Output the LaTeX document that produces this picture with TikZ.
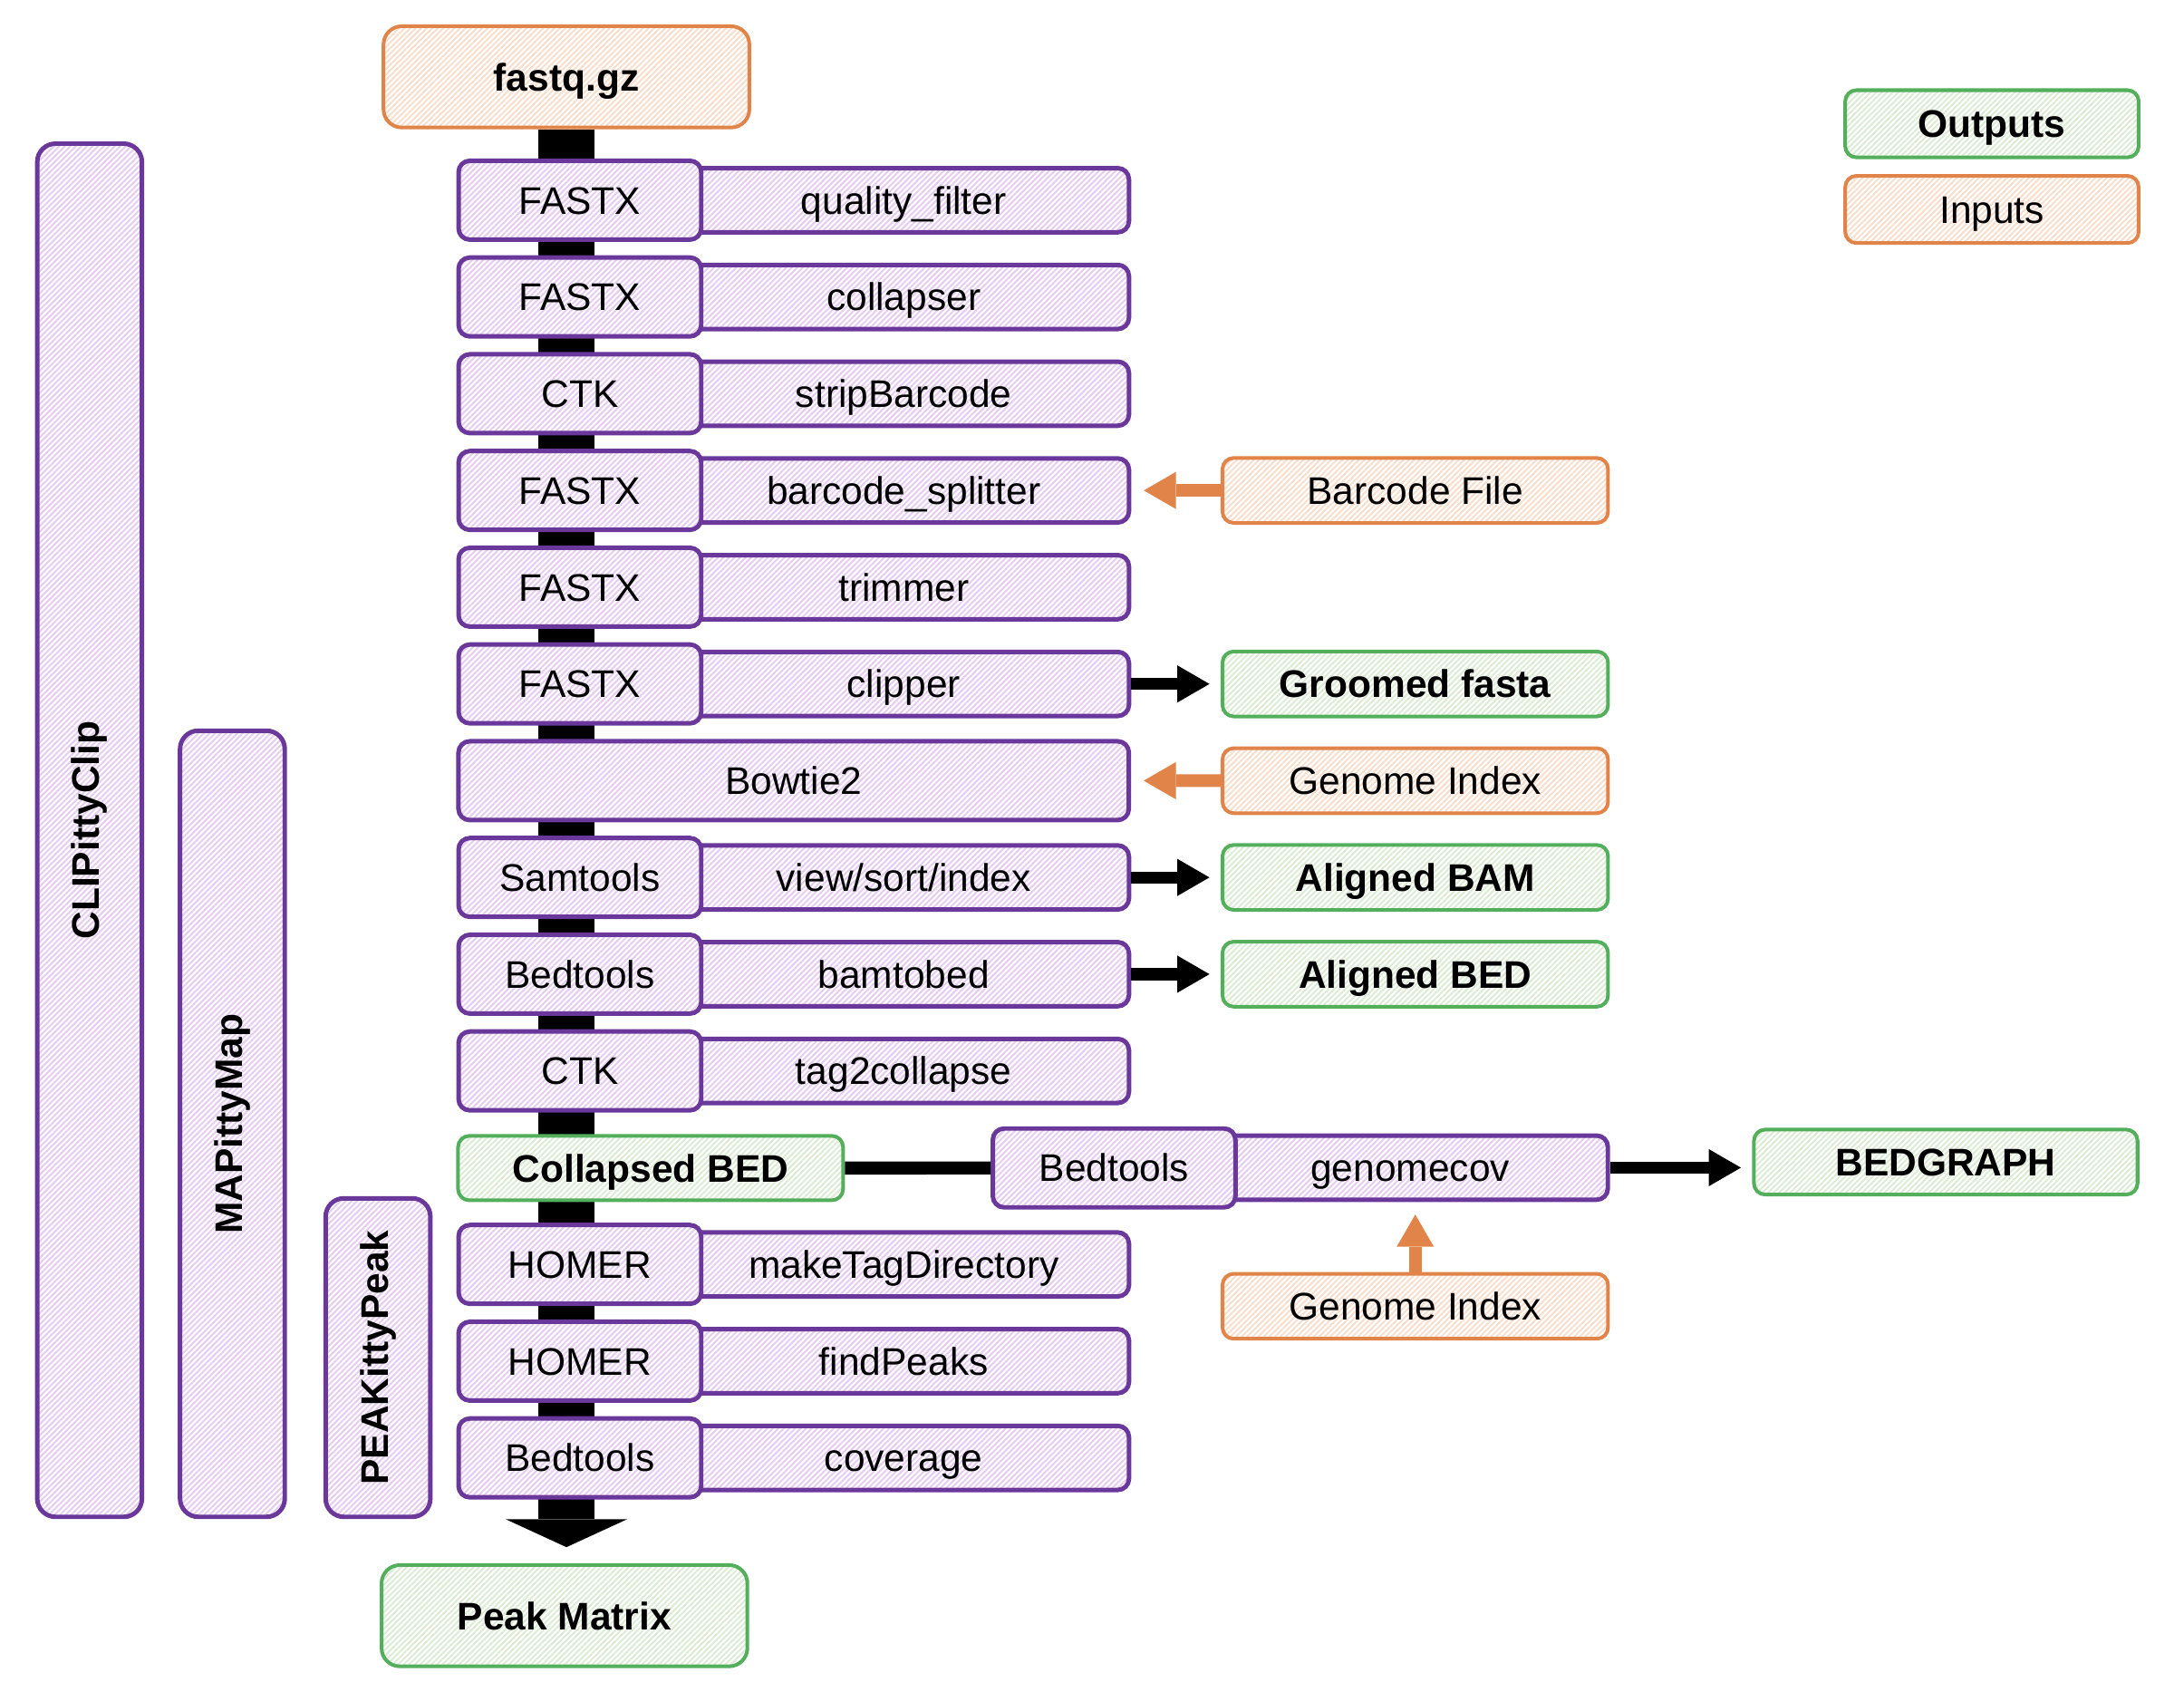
\documentclass[tikz,border=0pt]{standalone}
\usepackage{fontspec}
\usepackage{graphicx}
\setmainfont{Liberation Sans}
\usetikzlibrary{positioning, arrows.meta, patterns.meta}

\definecolor{purline}{RGB}{106,56,155}
\definecolor{purhatch}{RGB}{230,204,240}
\definecolor{grnline}{RGB}{84,175,92}
\definecolor{grnhatch}{RGB}{220,236,212}
\definecolor{orgline}{RGB}{224,132,74}
\definecolor{orghatch}{RGB}{248,222,204}

\newcommand{\boxfont}{\fontsize{27.5}{33}\selectfont}

\begin{document}
\begin{tikzpicture}[
	x=1pt,
	y=-1pt,
	every box/.style={draw, inner sep=0pt, rounded corners=8pt, text height=19.7pt, text depth=0pt, font=\boxfont, preaction={fill=white}},
	box tool/.style={every box, line width=3.2pt, draw=purline, pattern={Lines[angle=45, distance=2.8pt, line width=1.3pt]}, pattern color=purhatch, minimum width=173.3pt, minimum height=56.3pt},
	box cmd/.style={box tool, minimum width=321.8pt, minimum height=45.8pt},
	box column/.style={box tool, rounded corners=13pt, minimum width=74.8pt, text height=0pt, text depth=0pt, font=\boxfont\bfseries},
	box out/.style={every box, line width=2.6pt, draw=grnline, pattern={Lines[angle=45, distance=2.8pt, line width=1.3pt]}, pattern color=grnhatch, font=\boxfont\bfseries},
	box in/.style={every box, line width=2.6pt, draw=orgline, pattern={Lines[angle=45, distance=2.8pt, line width=1.3pt]}, pattern color=orghatch},
	box side/.style={minimum width=275.4pt, minimum height=46.4pt},
	box legend/.style={minimum width=209.6pt, minimum height=48pt},
	box end/.style={rounded corners=13pt, minimum width=261.3pt, minimum height=72.3pt},
	spine/.style={line width=40.5pt, -{Triangle[length=20pt, width=87pt, line width=0pt]}, shorten >=11.5pt},
	out arrow/.style={line width=8.6pt, -{Triangle[length=23pt, width=26.6pt, line width=0pt]}, shorten >=8pt},
	in arrow/.style={out arrow, draw=orgline, line width=9pt, shorten >=9pt}
]

\useasboundingbox (0,0) rectangle (1560,1208);

% wrapper columns
\foreach \n/\l/\x/\yt in {clip/CLIPittyClip/64/101, map/MAPittyMap/166/520.3, peak/PEAKittyPeak/270/854.3}
	\node [box column, minimum height={1081.8-\yt}] (col-\n) at (\x, {(\yt+1085)/2}) {\raisebox{-0.5\height}{\rotatebox{90}{\l}}};

\node [box in, box end, font=\boxfont\bfseries] (fastq) at (404.6, 54.9) {fastq.gz};
\node [box out, box end] (peakmat) at (403.2, 1154) {Peak Matrix};

\draw [spine] (fastq.south) -- (fastq.south |- peakmat.north);

% pipeline steps
\foreach \r/\prog/\task in {1/FASTX/quality\_filter, 2/FASTX/collapser, 3/CTK/stripBarcode, 4/FASTX/barcode\_splitter, 5/FASTX/trimmer, 6/FASTX/clipper, 8/Samtools/{view/sort/index}, 9/Bedtools/bamtobed, 10/CTK/tag2collapse, 12/HOMER/makeTagDirectory, 13/HOMER/findPeaks, 14/Bedtools/coverage}
{
	\node [box cmd] (cmd-\r) at (645.5, 73.9+69.1*\r) {\task};
	\node [box tool] (tool-\r) at (414.2, 73.9+69.1*\r) {\prog};
}

\node [box tool, minimum width=478.8pt] (tool-7) at (566.9, 557.6) {Bowtie2};
\node [box out, minimum width=275pt, minimum height=46pt] (colbed) at (464.7, 834.3) {Collapsed BED};

\node [box cmd, minimum width=282.3pt] (cmd-gc) at (1007.3, 834) {genomecov};
\node [box tool] (tool-gc) at (795.8, 834.2) {Bedtools};

% inputs and outputs
\foreach \k/\r/\l/\s in {barcode/4/Barcode File/in, groomed/6/Groomed fasta/out, genome/7/Genome Index/in, bam/8/Aligned BAM/out, bed/9/Aligned BED/out}
	\node [box \s, box side] (\k) at (1010.9, 73.9+69.1*\r) {\l};

\node [box in, box side] (genome-2) at (1010.9, 933) {Genome Index};
\node [box out, box side, minimum width=274pt] (bedgraph) at (1389.8, 830) {BEDGRAPH};

\draw [in arrow] (barcode) -- (cmd-4);
\draw [in arrow] (genome) -- (tool-7);
\draw [in arrow] (genome-2) -- (genome-2 |- cmd-gc.south);

\foreach \k/\r in {groomed/6, bam/8, bed/9}
	\draw [out arrow] (cmd-\r) -- (\k);

\draw [line width=9.3pt] (colbed) -- (tool-gc);
\draw [out arrow] (cmd-gc.east) -- (cmd-gc.east -| bedgraph.west);

% legend
\node [box out, box legend] (outputs) at (1422.8, 88.4) {Outputs};
\node [box in, box legend] (inputs) at (1422.8, 149.6) {Inputs};

\end{tikzpicture}
\end{document}
